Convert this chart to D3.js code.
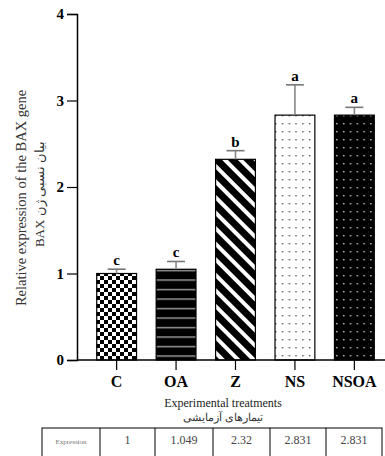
<!DOCTYPE html>
<meta charset="utf-8">
<style>
  body { margin: 0; background: white; }
  svg text { font-family: "Liberation Serif", "Times New Roman", serif; }
</style>
<script src="https://d3js.org/d3.v7.min.js"></script>
<body>
<div id="chart"></div>
<script>
// data
var treatments = ["C", "OA", "Z", "NS", "NSOA"];
var expression = [1.0, 1.049, 2.32, 2.831, 2.831];
var errors = [0.05, 0.09, 0.1, 0.35, 0.09];
var letters = ["c", "c", "b", "a", "a"];
var tableValues = ["1", "1.049", "2.32", "2.831", "2.831"];
var yTicks = [0, 1, 2, 3, 4];

var width = 385, height = 456;

var svg = d3.select("#chart").append("svg")
  .attr("width", width)
  .attr("height", height);

var defs = svg.append("defs");

// checker for C
var pC = defs.append("pattern").attr("id", "pC")
  .attr("patternUnits", "userSpaceOnUse").attr("width", 8).attr("height", 8);
pC.append("rect").attr("width", 8).attr("height", 8).attr("fill", "white");
pC.append("rect").attr("width", 4).attr("height", 4).attr("fill", "black");
pC.append("rect").attr("x", 4).attr("y", 4).attr("width", 4).attr("height", 4).attr("fill", "black");

// horizontal lines for OA
var pOA = defs.append("pattern").attr("id", "pOA")
  .attr("patternUnits", "userSpaceOnUse").attr("width", 10).attr("height", 9.5);
pOA.append("rect").attr("width", 10).attr("height", 9.5).attr("fill", "black");
pOA.append("rect").attr("y", 4).attr("width", 10).attr("height", 1.2).attr("fill", "#bbb");

// diagonal stripes for Z (running down to the right)
var pZ = defs.append("pattern").attr("id", "pZ")
  .attr("patternUnits", "userSpaceOnUse").attr("width", 11).attr("height", 11)
  .attr("patternTransform", "rotate(-45)");
pZ.append("rect").attr("width", 11).attr("height", 11).attr("fill", "black");
pZ.append("rect").attr("x", 0).attr("width", 4).attr("height", 11).attr("fill", "white");

// dots on white for NS
var pNS = defs.append("pattern").attr("id", "pNS")
  .attr("patternUnits", "userSpaceOnUse").attr("width", 6.8).attr("height", 8);
pNS.append("rect").attr("width", 6.8).attr("height", 8).attr("fill", "white");
pNS.append("rect").attr("x", 3).attr("y", 3).attr("width", 1.4).attr("height", 1.4).attr("fill", "#555");

// dots on black for NSOA
var pNSOA = defs.append("pattern").attr("id", "pNSOA")
  .attr("patternUnits", "userSpaceOnUse").attr("width", 6.8).attr("height", 8);
pNSOA.append("rect").attr("width", 6.8).attr("height", 8).attr("fill", "black");
pNSOA.append("rect").attr("x", 3).attr("y", 3).attr("width", 1.4).attr("height", 1.4).attr("fill", "#ccc");

var fills = ["url(#pC)", "url(#pOA)", "url(#pZ)", "url(#pNS)", "url(#pNSOA)"];

var x = d3.scaleBand().domain(treatments).range([67, 404]).paddingInner(0.33).paddingOuter(0.5);
var y = d3.scaleLinear().domain([0, 4]).range([360, 14]);

// bars
svg.selectAll("rect.bar")
  .data(treatments)
  .enter().append("rect")
  .attr("class", "bar")
  .attr("x", function(d) { return x(d); })
  .attr("y", function(d, i) { return y(expression[i]); })
  .attr("width", x.bandwidth())
  .attr("height", function(d, i) { return y(0) - y(expression[i]); })
  .attr("fill", function(d, i) { return fills[i]; })
  .attr("stroke", "black")
  .attr("stroke-width", 1.2);

// error bars
var eb = svg.selectAll("g.err").data(treatments).enter().append("g").attr("class", "err");
eb.append("line")
  .attr("x1", function(d) { return x(d) + x.bandwidth() / 2; })
  .attr("x2", function(d) { return x(d) + x.bandwidth() / 2; })
  .attr("y1", function(d, i) { return y(expression[i]); })
  .attr("y2", function(d, i) { return y(expression[i] + errors[i]); })
  .attr("stroke", "#888").attr("stroke-width", 1.6);
eb.append("line")
  .attr("x1", function(d) { return x(d) + x.bandwidth() / 2 - 9; })
  .attr("x2", function(d) { return x(d) + x.bandwidth() / 2 + 9; })
  .attr("y1", function(d, i) { return y(expression[i] + errors[i]); })
  .attr("y2", function(d, i) { return y(expression[i] + errors[i]); })
  .attr("stroke", "#777").attr("stroke-width", 1.6);

// significance letters
svg.selectAll("text.sig").data(treatments).enter().append("text")
  .attr("class", "sig")
  .attr("x", function(d) { return x(d) + x.bandwidth() / 2; })
  .attr("y", function(d, i) { return y(expression[i] + errors[i]) - 4; })
  .attr("text-anchor", "middle")
  .attr("font-size", "15px")
  .attr("font-weight", "bold")
  .text(function(d, i) { return letters[i]; });

// y axis
var yAxis = svg.append("g")
  .attr("transform", "translate(77,0)")
  .call(d3.axisLeft(y).tickValues(yTicks).tickFormat(d3.format("d")).tickSize(10).tickPadding(3));
yAxis.select(".domain").attr("stroke-width", 1.5);
yAxis.selectAll(".tick line").attr("stroke-width", 1.2);
yAxis.selectAll("text")
  .attr("font-family", "Liberation Serif, serif")
  .attr("font-size", "15px")
  .attr("font-weight", "bold")
  .attr("fill", "black");

// x axis
var xAxis = svg.append("g")
  .attr("transform", "translate(0,360)")
  .call(d3.axisBottom(x).tickSize(10).tickSizeOuter(0).tickPadding(6));
xAxis.select(".domain").attr("d", "M77,0H385").attr("stroke-width", 1.5);
xAxis.selectAll(".tick line").attr("stroke-width", 1.2);
xAxis.selectAll("text")
  .attr("font-family", "Liberation Serif, serif")
  .attr("font-size", "16px")
  .attr("font-weight", "bold")
  .attr("fill", "black");

// axis titles
svg.append("text")
  .attr("transform", "translate(26,198) rotate(-90)")
  .attr("text-anchor", "middle")
  .attr("font-size", "14.5px")
  .attr("fill", "#333")
  .text("Relative expression of the BAX gene");
svg.append("text")
  .attr("transform", "translate(44,194) rotate(-90)")
  .attr("text-anchor", "middle")
  .attr("font-size", "13px")
  .attr("fill", "#333")
  .text("BAX بیان نسبی ژن");

svg.append("text")
  .attr("x", 223).attr("y", 407)
  .attr("text-anchor", "middle")
  .attr("font-size", "12px")
  .attr("fill", "#222")
  .text("Experimental treatments");
svg.append("text")
  .attr("x", 223).attr("y", 421)
  .attr("text-anchor", "middle")
  .attr("font-size", "11px")
  .attr("fill", "#333")
  .text("تیمارهای آزمایشی");

// table below
var colEdges = [42, 100, 155, 213, 270, 326, 382];
var tableTop = 428, tableBottom = 470;
var cells = ["Expression"].concat(tableValues);
var tbl = svg.append("g");
tbl.append("rect")
  .attr("x", colEdges[0]).attr("y", tableTop)
  .attr("width", colEdges[6] - colEdges[0]).attr("height", tableBottom - tableTop)
  .attr("fill", "none").attr("stroke", "black").attr("stroke-width", 1);
tbl.selectAll("line.col").data(colEdges.slice(1, 6)).enter().append("line")
  .attr("x1", function(d) { return d; }).attr("x2", function(d) { return d; })
  .attr("y1", tableTop).attr("y2", tableBottom)
  .attr("stroke", "black").attr("stroke-width", 1);
tbl.selectAll("text.cell").data(cells).enter().append("text")
  .attr("x", function(d, i) { return (colEdges[i] + colEdges[i + 1]) / 2; })
  .attr("y", 444)
  .attr("text-anchor", "middle")
  .attr("font-size", function(d, i) { return i === 0 ? "7px" : "12px"; })
  .attr("fill", function(d, i) { return i === 0 ? "#777" : "#444"; })
  .text(function(d) { return d; });
</script>
</body>
